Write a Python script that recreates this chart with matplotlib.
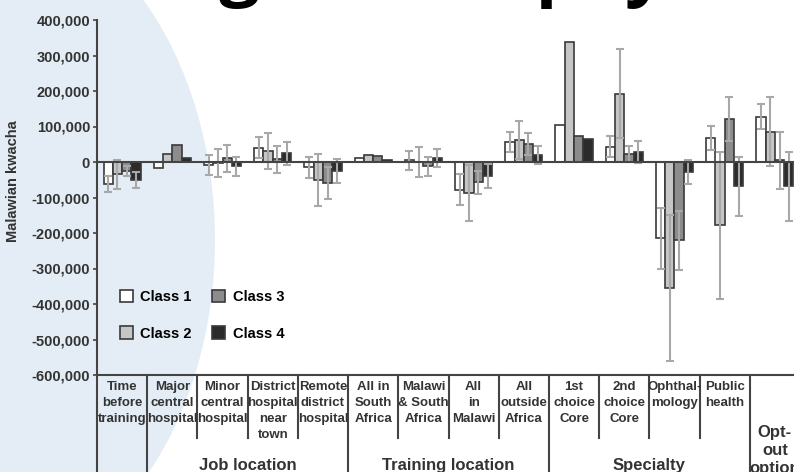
import numpy as np
import matplotlib
matplotlib.use("Agg")
import matplotlib.pyplot as plt
from matplotlib.patches import Patch, Ellipse
from matplotlib.ticker import FuncFormatter
import matplotlib.transforms as mtransforms

plt.rcParams['font.family'] = ['Liberation Sans', 'DejaVu Sans']

# willingness to pay by latent class, Malawian kwacha
cat_labels = ["Time\nbefore\ntraining", "Major\ncentral\nhospital", "Minor\ncentral\nhospital",
              "District\nhospital\nnear\ntown", "Remote\ndistrict\nhospital",
              "All in\nSouth\nAfrica", "Malawi\n& South\nAfrica", "All\nin\nMalawi",
              "All\noutside\nAfrica", "1st\nchoice\nCore", "2nd\nchoice\nCore",
              "Ophthal-\nmology", "Public\nhealth", ""]
class_names = ["Class 1", "Class 2", "Class 3", "Class 4"]

class1 = [-62000, -16000, -9000, 40000, -15000, 12000, 5000, -78000, 57000, 103000, 43000, -215000, 68000, 127000]
class2 = [-35000, 23000, -3000, 31000, -51000, 20000, 0, -88000, 62000, 337000, 192000, -355000, -178000, 85000]
class3 = [-25000, 48000, 10000, 8000, -60000, 17000, -12000, -57000, 51000, 72000, 23000, -221000, 122000, 5000]
class4 = [-50000, 12000, -12000, 24000, -26000, 5000, 12000, -40000, 20000, 66000, 28000, -28000, -68000, -68000]

# error bar half-widths (None = no bar shown)
err1 = [23000, None, 28000, 30000, 30000, None, 27000, 44000, 28000, None, 29000, 85000, 34000, 35000]
err2 = [40000, None, 40000, 51000, 74000, None, 43000, 79000, 54000, None, 125000, 205000, 207000, 97000]
err3 = [14000, None, 38000, 38000, 45000, None, 27000, 33000, 31000, None, 23000, 82000, 62000, 80000]
err4 = [22000, None, 27000, 32000, 34000, None, 25000, 33000, 26000, None, 32000, 35000, 83000, 97000]

groups = [("Job location", 1, 4), ("Training location", 5, 8), ("Specialty", 9, 12), ("Opt-\nout\noption", 13, 13)]

values = [class1, class2, class3, class4]
errors = [err1, err2, err3, err4]
colors = ["white", "#c6c6c6", "#8c8c8c", "#2b2b2b"]
edge = "#3a3a3a"

fig = plt.figure(figsize=(7.94, 4.72), dpi=100)

# pale logo watermark in the background
fig.patches.append(Ellipse((-30 / 794, 1 - 240 / 472), 490 / 794, 680 / 472,
                           transform=fig.transFigure, facecolor="#e4edf5",
                           edgecolor="none", zorder=-5))
# page title, mostly cut off at the top
fig.text(14 / 794, 1 + 8 / 472, "Willingness to pay", fontsize=52, fontweight="bold",
         family=["Open Sans", "DejaVu Sans"], va="baseline", ha="left")

ax = fig.add_axes([97 / 794, 1 - 375 / 472, 703 / 794, 355 / 472])
ax.set_zorder(2)
ax.set_facecolor("none")

n = len(cat_labels)
x = np.arange(n)
w = 0.185
for k in range(4):
    pos = x + (k - 1.5) * w
    ax.bar(pos, values[k], w, color=colors[k], edgecolor=edge, linewidth=1.2,
           label=class_names[k], zorder=2)
    ex = [p for p, e in zip(pos, errors[k]) if e is not None]
    ey = [v for v, e in zip(values[k], errors[k]) if e is not None]
    ee = [e for e in errors[k] if e is not None]
    ax.errorbar(ex, ey, yerr=ee, fmt="none", ecolor="#a8a8a8", elinewidth=1.5,
                capsize=3, capthick=1.5, zorder=3)

ax.axhline(0, color="#444444", linewidth=1.5, zorder=4)
ax.set_xlim(-0.5, n - 0.5)
ax.set_ylim(-600000, 400000)
ax.set_yticks(np.arange(-600000, 400001, 100000))
ax.yaxis.set_major_formatter(FuncFormatter(lambda v, p: f"{int(v):,}"))
ax.set_xticks([])
for s in ["top", "right"]:
    ax.spines[s].set_visible(False)
for s in ["left", "bottom"]:
    ax.spines[s].set_color("#444444")
    ax.spines[s].set_linewidth(1.5)
ax.tick_params(axis="y", length=3, width=1.2, color="#444444", pad=2, labelsize=10.5)
for t in ax.get_yticklabels():
    t.set_fontweight("bold")
    t.set_color("#333333")

ax.set_ylabel("Malawian kwacha", fontsize=10.5, fontweight="bold", color="#333333")
ax.yaxis.set_label_coords(-0.11, 0.546)

# category table under the plot
tr = mtransforms.blended_transform_factory(ax.transData, ax.transAxes)
full = [0, 1, 5, 9, 13]
for i in range(n):
    bottom = -0.28 if i in full else -0.178
    ax.plot([i - 0.5, i - 0.5], [0, bottom], color="#444444", linewidth=1.5,
            transform=tr, clip_on=False)
    ax.text(i, -0.016, cat_labels[i], transform=tr, ha="center", va="top",
            fontsize=9.5, fontweight="bold", color="#333333", linespacing=1.45)

for name, a, b in groups:
    if "\n" in name:
        ax.text((a + b) / 2, -0.142, name, transform=tr, ha="center", va="top",
                fontsize=12, fontweight="bold", color="#333333", linespacing=1.25)
    else:
        ax.text((a + b) / 2, -0.256, name, transform=tr, ha="center", va="center",
                fontsize=12, fontweight="bold", color="#333333")

handles = [Patch(facecolor=c, edgecolor=edge, linewidth=1.2) for c in colors]
ax.legend(handles, class_names, ncol=2, loc="upper left", bbox_to_anchor=(0.014, 0.277),
          frameon=False, fontsize=10.5, handlelength=0.9, handleheight=0.9,
          handletextpad=0.5, columnspacing=1.4, labelspacing=1.55,
          prop={"weight": "bold", "size": 10.5})

fig.savefig("out.png", dpi=100)
